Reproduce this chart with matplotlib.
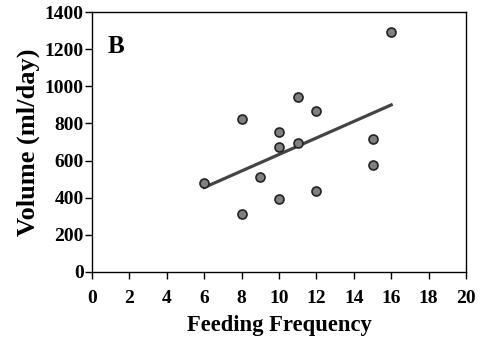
import matplotlib
matplotlib.use("Agg")
import matplotlib.pyplot as plt

# data
freq = [6, 8, 8, 9, 10, 10, 10, 11, 11, 12, 12, 15, 15, 16]
volume = [481, 822, 311, 513, 754, 675, 391, 944, 693, 865, 438, 715, 575, 1294]

# regression line end points
fit_x = [6, 16]
fit_y = [455, 900]

plt.rcParams['font.family'] = ['Liberation Serif', 'DejaVu Serif']
plt.rcParams['font.weight'] = 'bold'

fig = plt.figure(figsize=(4.81, 3.46), dpi=100)
ax = fig.add_axes([0.191, 0.214, 0.778, 0.751])

ax.plot(fit_x, fit_y, color='#444444', lw=2.3, zorder=2)
ax.scatter(freq, volume, s=42, color='#808080', edgecolor='#222222', lw=1.2, zorder=3)

ax.set_xlim(0, 20)
ax.set_ylim(0, 1400)
ax.set_xticks(range(0, 21, 2))
ax.set_yticks(range(0, 1401, 200))
ax.tick_params(direction='out', length=5, width=1, labelsize=14)
ax.tick_params(axis='x', pad=8)
ax.tick_params(axis='y', pad=1)
for lab in ax.get_xticklabels() + ax.get_yticklabels():
    lab.set_fontweight('bold')

for s in ax.spines.values():
    s.set_linewidth(1)

ax.set_xlabel('Feeding Frequency', fontsize=16.3, fontweight='bold', labelpad=6)
ax.set_ylabel('Volume (ml/day)', fontsize=19, fontweight='bold', labelpad=3)
ax.text(0.86, 1181, 'B', fontsize=18, fontweight='bold', va='baseline')

plt.savefig('out.png', dpi=100)
